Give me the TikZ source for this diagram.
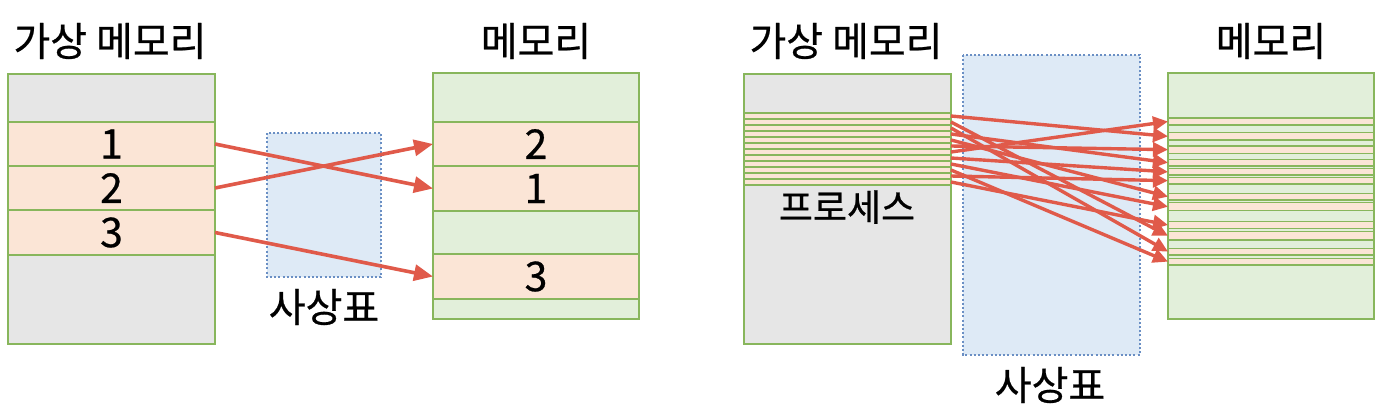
\documentclass[tikz,border=0pt]{standalone}
\usepackage{fontspec}
\setmainfont[FakeBold=0.6]{Noto Sans CJK KR}
\usetikzlibrary{arrows.meta}
\definecolor{gborder}{HTML}{88B65C}
\definecolor{grayf}{HTML}{E6E6E6}
\definecolor{orangef}{HTML}{FBE5D6}
\definecolor{greenf}{HTML}{E2EFDA}
\definecolor{bluef}{HTML}{DEEAF6}
\definecolor{bluedot}{HTML}{6A8FC4}
\definecolor{arrowred}{HTML}{E05A4A}
\begin{document}
\begin{tikzpicture}[x=1pt,y=-1pt,
  cell/.style={draw=gborder, line width=1.6pt, inner sep=0pt, outer sep=0pt, anchor=north west,
    font=\fontsize{41}{44}\selectfont},
  stripe/.style={draw=gborder, line width=1.5pt, inner sep=0pt, outer sep=0pt, anchor=north west, fill=orangef},
  maptable/.style={draw=bluedot, fill=bluef, line width=2.4pt, dash pattern=on 2pt off 2.2pt},
  title/.style={font=\fontsize{40}{44}\selectfont, inner sep=0pt},
  bigarrow/.style={draw=arrowred, line width=3.6pt, -{Triangle[length=19pt,width=16pt]}},
  smallarrow/.style={draw=arrowred, line width=3.4pt, -{Triangle[length=15pt,width=14pt]}}]
\useasboundingbox (0,0) rectangle (1383,407);

% ---------- left panel ----------
\node[title] (t1) at (110,41) {가상 메모리};
\node[title] (t2) at (536,41) {메모리};

\node[cell, fill=grayf,   minimum width=207pt, minimum height=48pt] (v0) at (8,74) {};
\node[cell, fill=orangef, minimum width=207pt, minimum height=44pt] (v1) at (8,122) {1};
\node[cell, fill=orangef, minimum width=207pt, minimum height=44pt] (v2) at (8,166) {2};
\node[cell, fill=orangef, minimum width=207pt, minimum height=45pt] (v3) at (8,210) {3};
\node[cell, fill=grayf,   minimum width=207pt, minimum height=89pt] (v4) at (8,255) {};

\node[cell, fill=greenf,  minimum width=206pt, minimum height=49pt] (mm0) at (433,73) {};
\node[cell, fill=orangef, minimum width=206pt, minimum height=44pt] (mm1) at (433,122) {2};
\node[cell, fill=orangef, minimum width=206pt, minimum height=45pt] (mm2) at (433,166) {1};
\node[cell, fill=greenf,  minimum width=206pt, minimum height=43pt] (mm3) at (433,211) {};
\node[cell, fill=orangef, minimum width=206pt, minimum height=45pt] (mm4) at (433,254) {3};
\node[cell, fill=greenf,  minimum width=206pt, minimum height=20pt] (mm5) at (433,299) {};

\draw[maptable] (267,133) rectangle (381,277);
\node[title] (l1) at (324,307) {사상표};

\draw[bigarrow] (v1.east) -- (mm2.west);
\draw[bigarrow] (v2.east) -- (mm1.west);
\draw[bigarrow] (v3.east) -- (mm4.west);

% ---------- right panel ----------
\node[title] (t3) at (846,41) {가상 메모리};
\node[title] (t4) at (1271,41) {메모리};

\draw[maptable] (963,55) rectangle (1140,355);
\node[title] (l2) at (1050,385) {사상표};

\node[cell, fill=grayf, minimum width=207pt, minimum height=270pt] (rv) at (744,74) {};
\foreach \i in {1,...,12}{
  \pgfmathsetmacro\yy{113+6*(\i-1)}
  \node[stripe, minimum width=207pt, minimum height=6pt] (vs\i) at (744,\yy) {};
}
\node[font=\fontsize{37}{40}\selectfont, inner sep=0pt] (proc) at (847,207) {프로세스};

\node[cell, fill=greenf, minimum width=206pt, minimum height=246pt] (rm) at (1168,73) {};
\foreach \t/\b [count=\i] in {118/125, 132.7/140, 146/153.3, 159.3/166, 168.7/175, 177.3/184,
    193.3/200, 202.7/210.7, 221.7/228.3, 231.7/240, 248.3/255, 258.3/265}{
  \pgfmathsetmacro\hh{\b-\t}
  \node[stripe, minimum width=206pt, minimum height=\hh pt] (mo\i) at (1168,\t) {};
}

\foreach \s/\e in {1/2, 2/10, 3/11, 4/4, 5/7, 6/3, 7/1, 8/5, 9/8, 10/12, 11/6, 12/9}{
  \draw[smallarrow] (vs\s.east) -- (mo\e.west);
}
\end{tikzpicture}
\end{document}
